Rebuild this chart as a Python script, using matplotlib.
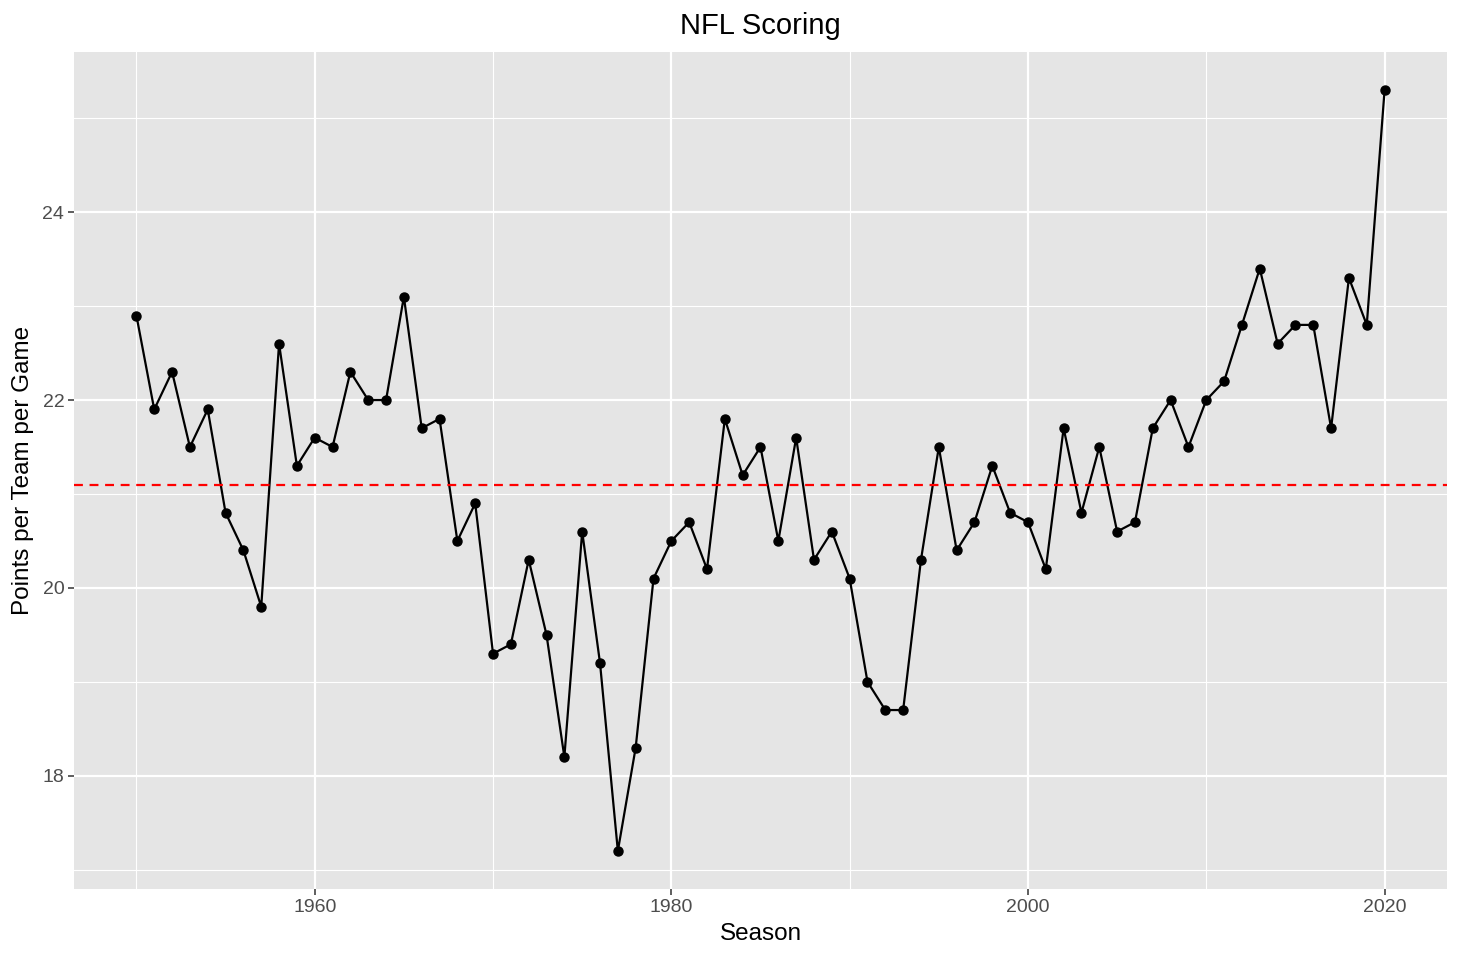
import numpy as np
import matplotlib
matplotlib.use("Agg")
import matplotlib.pyplot as plt
from matplotlib.ticker import MultipleLocator

# Data
seasons = list(range(1950, 2021))
points = [
    22.9, 21.9, 22.3, 21.5, 21.9, 20.8, 20.4, 19.8, 22.6, 21.3,  # 1950s
    21.6, 21.5, 22.3, 22.0, 22.0, 23.1, 21.7, 21.8, 20.5, 20.9,  # 1960s
    19.3, 19.4, 20.3, 19.5, 18.2, 20.6, 19.2, 17.2, 18.3, 20.1,  # 1970s
    20.5, 20.7, 20.2, 21.8, 21.2, 21.5, 20.5, 21.6, 20.3, 20.6,  # 1980s
    20.1, 19.0, 18.7, 18.7, 20.3, 21.5, 20.4, 20.7, 21.3, 20.8,  # 1990s
    20.7, 20.2, 21.7, 20.8, 21.5, 20.6, 20.7, 21.7, 22.0, 21.5,  # 2000s
    22.0, 22.2, 22.8, 23.4, 22.6, 22.8, 22.8, 21.7, 23.3, 22.8,  # 2010s
    25.3,
]
mean_line = 21.1

plt.rcParams["font.family"] = ["Liberation Sans", "DejaVu Sans"]

fig = plt.figure(figsize=(14.6, 9.6), dpi=100)
ax = fig.add_axes([74 / 1460, 1 - 889 / 960, (1447 - 74) / 1460, (889 - 52) / 960])

ax.set_facecolor("#E5E5E5")
for s in ax.spines.values():
    s.set_visible(False)

# ggplot style grid
ax.xaxis.set_major_locator(MultipleLocator(20))
ax.xaxis.set_minor_locator(MultipleLocator(10))
ax.yaxis.set_major_locator(MultipleLocator(2))
ax.yaxis.set_minor_locator(MultipleLocator(1))
ax.grid(which="major", color="white", linewidth=1.6)
ax.grid(which="minor", color="white", linewidth=0.8)
ax.set_axisbelow(True)

ax.plot(seasons, points, color="black", linewidth=1.6, marker="o", markersize=6.5)
ax.axhline(mean_line, color="red", linestyle=(0, (4, 3)), linewidth=1.6)

# 5% expansion like ggplot
xr = max(seasons) - min(seasons)
yr = max(points) - min(points)
ax.set_xlim(min(seasons) - 0.05 * xr, max(seasons) + 0.05 * xr)
ax.set_ylim(min(points) - 0.05 * yr, max(points) + 0.05 * yr)

ax.tick_params(which="major", color="#333333", length=4, width=1.1,
               labelcolor="#4D4D4D", labelsize=14, pad=3)
ax.tick_params(which="minor", length=0)

ax.set_xlabel("Season", fontsize=17.5, color="black", labelpad=5)
ax.set_ylabel("Points per Team per Game", fontsize=17.5, color="black", labelpad=6)
ax.set_title("NFL Scoring", fontsize=21, color="black", pad=13)

fig.savefig("out.png", dpi=100)
